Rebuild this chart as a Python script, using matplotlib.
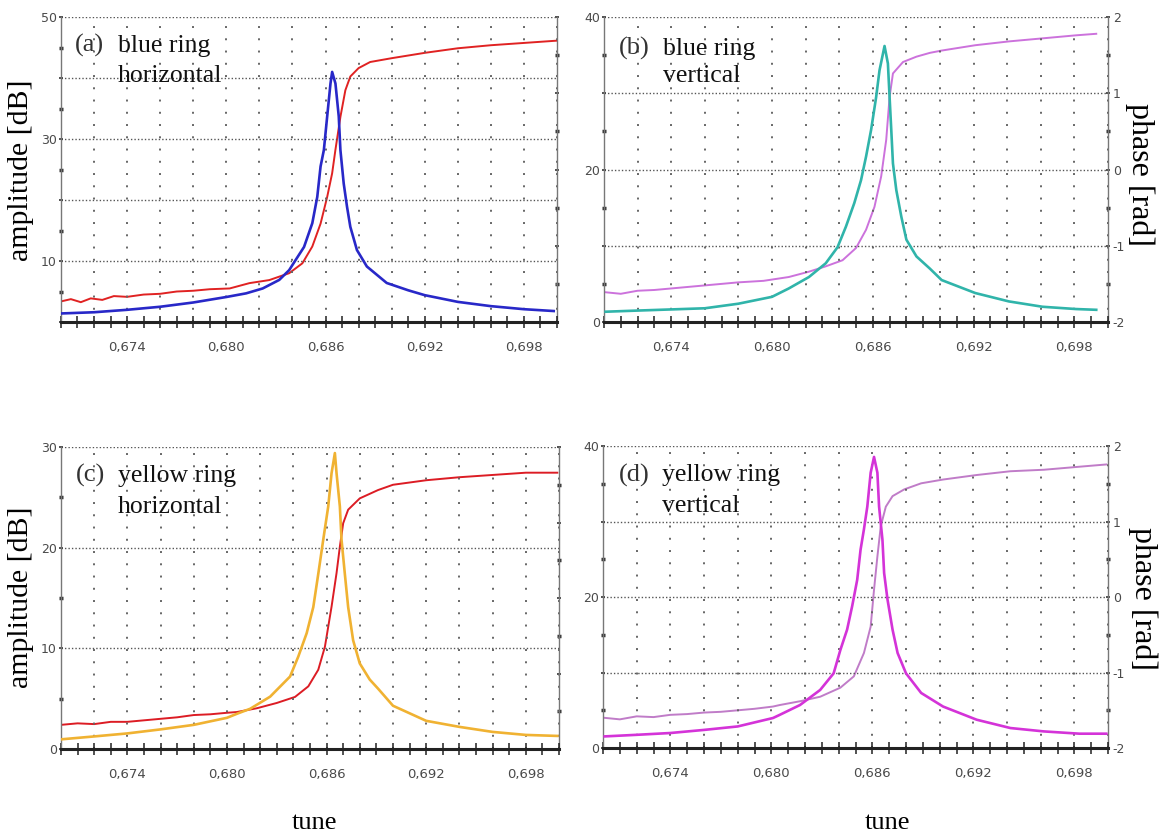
import matplotlib
matplotlib.use("Agg")
import matplotlib.pyplot as plt
from matplotlib.ticker import MultipleLocator, FuncFormatter

plt.rcParams["axes.unicode_minus"] = False

# ---- data (tune, amplitude [dB], phase [rad]) ----
labelled_tunes = [0.674, 0.680, 0.686, 0.692, 0.698]

# (a) blue ring horizontal
a_amp_x = [0.6700, 0.6720, 0.6740, 0.6760, 0.6780, 0.6800, 0.6812, 0.6822, 0.6832, 0.6838,
           0.6842, 0.6847, 0.6852, 0.6855, 0.6857, 0.6859, 0.6861, 0.6863, 0.6864, 0.6866,
           0.6868, 0.6869, 0.6871, 0.6873, 0.6875, 0.6879, 0.6885, 0.6897, 0.6910, 0.6920,
           0.6940, 0.6960, 0.6980, 0.6998]
a_amp_y = [1.4, 1.6, 2.0, 2.5, 3.2, 4.1, 4.7, 5.5, 6.9, 8.5,
           10.2, 12.3, 16.2, 20.5, 25.5, 28.2, 33.7, 39.1, 41.0, 39.1,
           33.7, 28.2, 22.7, 18.9, 15.6, 11.8, 9.1, 6.4, 5.2, 4.4,
           3.3, 2.6, 2.1, 1.8]
a_ph_x = [0.6700, 0.6706, 0.6712, 0.6718, 0.6725, 0.6732, 0.6740, 0.6750, 0.6760, 0.6770,
          0.6780, 0.6790, 0.6802, 0.6814, 0.6826, 0.6838, 0.6846, 0.6852, 0.6857, 0.6861,
          0.6864, 0.6866, 0.6869, 0.6872, 0.6875, 0.6880, 0.6887, 0.6900, 0.6920, 0.6940,
          0.6960, 0.6980, 0.7000]
a_ph_y = [-1.73, -1.70, -1.74, -1.69, -1.71, -1.66, -1.67, -1.64, -1.63, -1.60,
          -1.59, -1.57, -1.56, -1.49, -1.45, -1.36, -1.23, -1.01, -0.71, -0.36,
          -0.05, 0.26, 0.69, 1.04, 1.22, 1.33, 1.41, 1.46, 1.53, 1.59,
          1.63, 1.66, 1.69]

# (b) blue ring vertical
b_amp_x = [0.6701, 0.6720, 0.6740, 0.6760, 0.6780, 0.6800, 0.6810, 0.6822, 0.6832, 0.6839,
           0.6844, 0.6849, 0.6853, 0.6856, 0.6859, 0.6862, 0.6864, 0.6867, 0.6869, 0.6870,
           0.6871, 0.6872, 0.6874, 0.6877, 0.6880, 0.6886, 0.6894, 0.6901, 0.6921, 0.6941,
           0.6961, 0.6981, 0.6993]
b_amp_y = [1.35, 1.5, 1.65, 1.8, 2.4, 3.3, 4.4, 5.9, 7.7, 9.8,
           12.5, 15.6, 18.6, 21.7, 25.2, 29.5, 33.0, 36.2, 33.9, 29.5,
           25.2, 20.8, 17.3, 13.8, 10.8, 8.6, 7.0, 5.5, 3.8, 2.7,
           2.0, 1.7, 1.6]
b_ph_x = [0.6701, 0.6710, 0.6720, 0.6730, 0.6740, 0.6755, 0.6770, 0.6780, 0.6795, 0.6810,
          0.6822, 0.6832, 0.6842, 0.6850, 0.6856, 0.6861, 0.6865, 0.6868, 0.6870, 0.6872,
          0.6878, 0.6886, 0.6894, 0.6901, 0.6921, 0.6941, 0.6961, 0.6981, 0.6993]
b_ph_y = [-1.61, -1.63, -1.59, -1.58, -1.56, -1.53, -1.50, -1.48, -1.46, -1.41,
          -1.34, -1.27, -1.19, -1.03, -0.79, -0.49, -0.09, 0.39, 0.95, 1.26,
          1.41, 1.48, 1.53, 1.56, 1.63, 1.68, 1.72, 1.76, 1.78]

# (c) yellow ring horizontal
c_amp_x = [0.6700, 0.6720, 0.6740, 0.6760, 0.6780, 0.6800, 0.6806, 0.6814, 0.6826, 0.6838,
           0.6843, 0.6848, 0.6852, 0.6855, 0.6858, 0.6861, 0.6863, 0.6865, 0.6866, 0.6868,
           0.6869, 0.6871, 0.6873, 0.6876, 0.6880, 0.6886, 0.6891, 0.6900, 0.6920, 0.6940,
           0.6960, 0.6980, 0.6999]
c_amp_y = [0.96, 1.25, 1.55, 1.95, 2.4, 3.1, 3.5, 4.0, 5.2, 7.2,
           9.2, 11.5, 14.1, 17.4, 20.8, 24.1, 27.4, 29.4, 27.4, 24.1,
           20.8, 17.4, 14.1, 10.8, 8.5, 6.9, 6.0, 4.3, 2.8, 2.2,
           1.7, 1.4, 1.3]
c_ph_x = [0.6700, 0.6710, 0.6720, 0.6730, 0.6740, 0.6755, 0.6770, 0.6780, 0.6790, 0.6800,
          0.6806, 0.6818, 0.6830, 0.6841, 0.6849, 0.6855, 0.6859, 0.6863, 0.6866, 0.6868,
          0.6870, 0.6873, 0.6880, 0.6891, 0.6900, 0.6920, 0.6940, 0.6960, 0.6980, 0.6999]
c_ph_y = [-1.68, -1.66, -1.67, -1.64, -1.64, -1.61, -1.58, -1.55, -1.54, -1.52,
          -1.51, -1.46, -1.39, -1.31, -1.17, -0.95, -0.645, -0.115, 0.33, 0.68,
          0.99, 1.17, 1.32, 1.43, 1.50, 1.56, 1.60, 1.63, 1.66, 1.66]

# (d) yellow ring vertical
d_amp_x = [0.6701, 0.6720, 0.6740, 0.6760, 0.6780, 0.6801, 0.6805, 0.6817, 0.6829, 0.6837,
           0.6841, 0.6845, 0.6848, 0.6851, 0.6853, 0.6855, 0.6857, 0.6859, 0.6861, 0.6863,
           0.6864, 0.6866, 0.6867, 0.6869, 0.6872, 0.6875, 0.6880, 0.6889, 0.6902, 0.6922,
           0.6942, 0.6962, 0.6983, 0.6999]
d_amp_y = [1.54, 1.75, 1.99, 2.4, 2.86, 3.98, 4.4, 5.7, 7.7, 9.9,
           13.0, 15.7, 18.8, 22.3, 26.3, 29.0, 32.0, 36.5, 38.6, 36.5,
           32.0, 27.6, 23.2, 19.7, 15.7, 12.6, 9.9, 7.3, 5.5, 3.75,
           2.65, 2.2, 1.9, 1.9]
d_ph_x = [0.6701, 0.6710, 0.6720, 0.6730, 0.6740, 0.6750, 0.6760, 0.6770, 0.6780, 0.6790,
          0.6801, 0.6805, 0.6817, 0.6829, 0.6841, 0.6849, 0.6855, 0.6859, 0.6861, 0.6863,
          0.6865, 0.6868, 0.6872, 0.6879, 0.6889, 0.6902, 0.6922, 0.6942, 0.6962, 0.6983,
          0.6999]
d_ph_y = [-1.60, -1.62, -1.58, -1.59, -1.56, -1.55, -1.53, -1.52, -1.50, -1.48,
          -1.45, -1.43, -1.38, -1.32, -1.20, -1.05, -0.74, -0.39, 0.10, 0.54,
          0.94, 1.20, 1.34, 1.43, 1.51, 1.56, 1.62, 1.67, 1.69, 1.73,
          1.76]

SERIF = "Liberation Serif"
TICK_SIZE = 9
TICK_COLOR = "#4a4a4a"


def tune_label(v, pos):
    if round(v * 1000) in [round(t * 1000) for t in labelled_tunes]:
        return f"{v:.3f}".replace(".", ",")
    return ""


def make_panel(fig, rect, ymax, ylabels, amp, phase, amp_color, ph_color,
               tag, line1, line2, right_labels, text_y):
    ax = fig.add_axes(rect)
    ax2 = ax.twinx()

    ax.plot(amp[0], amp[1], color=amp_color, lw=1.9, zorder=3)
    ax2.plot(phase[0], phase[1], color=ph_color, lw=1.4, zorder=3)

    ax.set_xlim(0.670, 0.700)
    ax.set_ylim(0, ymax)
    ax2.set_ylim(-2, 2)

    # x axis: thick black baseline with crossing ticks
    ax.xaxis.set_major_locator(MultipleLocator(0.002))
    ax.xaxis.set_minor_locator(MultipleLocator(0.001))
    ax.xaxis.set_major_formatter(FuncFormatter(tune_label))
    ax.tick_params(axis="x", which="both", direction="inout", length=8, width=1.1,
                   color="#222222", pad=10, labelsize=9.5, labelcolor=TICK_COLOR)

    # left axis
    ax.yaxis.set_major_locator(MultipleLocator(10))
    ax.yaxis.set_minor_locator(MultipleLocator(5))
    ax.yaxis.set_major_formatter(
        FuncFormatter(lambda v, p: f"{v:g}" if round(v) in ylabels else ""))
    ax.tick_params(axis="y", which="major", direction="inout", length=3, width=1.2,
                   color="#333333", pad=1.5, labelsize=TICK_SIZE, labelcolor=TICK_COLOR)
    ax.tick_params(axis="y", which="minor", direction="inout", length=2.5, width=2.5,
                   color="#333333")

    # right (phase) axis
    ax2.yaxis.set_major_locator(MultipleLocator(1))
    ax2.yaxis.set_minor_locator(MultipleLocator(0.5))
    ax2.tick_params(axis="y", which="major", direction="inout", length=3, width=1.2,
                    color="#333333", pad=2, labelsize=TICK_SIZE, labelcolor=TICK_COLOR,
                    labelright=right_labels)
    ax2.tick_params(axis="y", which="minor", direction="inout", length=2.5, width=2.5,
                    color="#333333")
    ax2.yaxis.set_major_formatter(FuncFormatter(lambda v, p: f"{v:g}"))

    # grid: dense dotted horizontals, sparse dotted verticals
    ax.grid(axis="y", which="major", color="#555555", lw=1.0, ls=(0, (1, 1.5)))
    ax.grid(axis="x", which="major", color="#666666", lw=1.4, ls=(0, (1, 5.3)))
    ax.set_axisbelow(True)

    for a in (ax, ax2):
        a.spines["top"].set_visible(False)
        a.set_facecolor("none")
    ax.spines["right"].set_visible(False)
    ax2.spines["left"].set_visible(False)
    ax2.spines["bottom"].set_visible(False)
    ax.spines["left"].set_color("#777777")
    ax.spines["left"].set_linewidth(1.0)
    ax2.spines["right"].set_color("#777777")
    ax2.spines["right"].set_linewidth(1.0)
    ax.spines["bottom"].set_color("#222222")
    ax.spines["bottom"].set_linewidth(2.2)
    ax.set_zorder(ax2.get_zorder() + 1)

    ax.text(tag[0], text_y[0], tag[1], transform=ax.transAxes, fontsize=19,
            family=SERIF, color="#333333", va="baseline", ha="left")
    ax.text(line1[0], text_y[0], line1[1], transform=ax.transAxes, fontsize=18.5,
            family=SERIF, color="#111111", va="baseline", ha="left")
    ax.text(line1[0], text_y[1], line2, transform=ax.transAxes, fontsize=18.5,
            family=SERIF, color="#111111", va="baseline", ha="left")
    return ax, ax2


fig = plt.figure(figsize=(11.59, 8.34), dpi=100)

make_panel(fig, [0.0526, 0.6139, 0.4280, 0.3657], 50, [10, 30, 50],
           (a_amp_x, a_amp_y), (a_ph_x, a_ph_y), "#2828c8", "#e02222",
           (0.028, "(a)"), (0.115, "blue ring"), "horizontal", False, (0.886, 0.788))
make_panel(fig, [0.5211, 0.6139, 0.4349, 0.3657], 40, [0, 20, 40],
           (b_amp_x, b_amp_y), (b_ph_x, b_ph_y), "#30b4aa", "#cc72dc",
           (0.030, "(b)"), (0.117, "blue ring"), "vertical", True, (0.877, 0.788))
make_panel(fig, [0.0526, 0.1019, 0.4297, 0.3621], 30, [0, 10, 20, 30],
           (c_amp_x, c_amp_y), (c_ph_x, c_ph_y), "#f0b232", "#dc1c24",
           (0.030, "(c)"), (0.114, "yellow ring"), "horizontal", False, (0.885, 0.780))
make_panel(fig, [0.5203, 0.1031, 0.4357, 0.3617], 40, [0, 20, 40],
           (d_amp_x, d_amp_y), (d_ph_x, d_ph_y), "#d433d8", "#c07cc8",
           (0.032, "(d)"), (0.117, "yellow ring"), "vertical", True, (0.884, 0.784))

# axis titles
fig.text(0.0185, 0.796, "amplitude [dB]", rotation=90, ha="center", va="center",
         fontsize=21.5, family=SERIF)
fig.text(0.0185, 0.284, "amplitude [dB]", rotation=90, ha="center", va="center",
         fontsize=21.5, family=SERIF)
fig.text(0.9836, 0.791, "phase [rad]", rotation=270, ha="center", va="center",
         fontsize=23, family=SERIF)
fig.text(0.9862, 0.282, "phase [rad]", rotation=270, ha="center", va="center",
         fontsize=23, family=SERIF)
fig.text(0.271, 0.006, "tune", ha="center", va="baseline", fontsize=19, family=SERIF)
fig.text(0.766, 0.006, "tune", ha="center", va="baseline", fontsize=19, family=SERIF)

fig.savefig("out.png", dpi=100)
